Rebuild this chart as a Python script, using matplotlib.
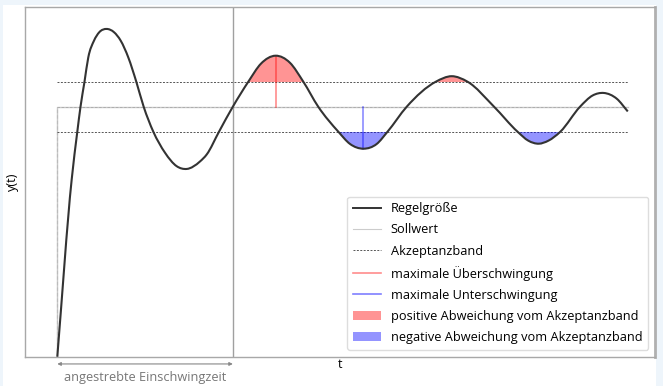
import numpy as np
import matplotlib
matplotlib.use("Agg")
import matplotlib.pyplot as plt
from matplotlib.lines import Line2D
from matplotlib.patches import Patch, Rectangle, PathPatch
from matplotlib.path import Path

# Regelgroesse (t in arbitrary units, y relative to setpoint)
t_values = [0.0, 0.328, 0.456, 0.529, 0.620, 0.706, 0.836, 0.957, 1.126, 1.292,
            1.445, 1.618, 1.800, 1.968, 2.188, 2.454, 2.721, 2.949, 3.252, 3.405,
            3.685, 4.0, 4.353, 4.640, 4.973, 5.300, 5.606, 5.946, 6.404, 6.670,
            6.974, 7.279, 7.525, 7.963, 8.626, 8.988, 9.348, 9.952, 10.488, 10.734,
            10.971, 11.190, 11.463, 11.912, 12.200, 12.450, 12.748, 13.0]
y_values = [0.0, 0.709, 0.900, 1.0, 1.10, 1.197, 1.264, 1.298, 1.311, 1.298,
            1.264, 1.197, 1.10, 1.0, 0.90, 0.816, 0.762, 0.751, 0.781, 0.809,
            0.90, 1.0, 1.10, 1.172, 1.204, 1.176, 1.10, 1.0, 0.90, 0.851,
            0.832, 0.851, 0.90, 1.0, 1.10, 1.122, 1.10, 1.0, 0.90, 0.864,
            0.852, 0.864, 0.90, 1.0, 1.045, 1.055, 1.032, 0.981]

sollwert = 1.0
band = 0.1
t_einschwing = 4.0

labels = ["Regelgröße", "Sollwert", "Akzeptanzband", "maximale Überschwingung",
          "maximale Unterschwingung", "positive Abweichung vom Akzeptanzband",
          "negative Abweichung vom Akzeptanzband"]

t = np.array(t_values)
y = np.array(y_values)


def smooth_path(t, y):
    # cubic bezier through the read points (hermite tangents)
    m = np.gradient(y, t)
    m[0] = (y[1] - y[0]) / (t[1] - t[0])
    verts = [(t[0], y[0])]
    codes = [Path.MOVETO]
    for i in range(len(t) - 1):
        h = t[i + 1] - t[i]
        verts += [(t[i] + h / 3, y[i] + m[i] * h / 3),
                  (t[i + 1] - h / 3, y[i + 1] - m[i + 1] * h / 3),
                  (t[i + 1], y[i + 1])]
        codes += [Path.CURVE4] * 3
    return verts, codes


plt.rcParams['font.family'] = ['Open Sans', 'DejaVu Sans']

fig = plt.figure(figsize=(6.63, 3.86), dpi=100, facecolor="#eef5fb")
# white card behind the chart
fig.patches.append(Rectangle((3 / 663, 0), 653 / 663, 381 / 386, transform=fig.transFigure,
                             facecolor="white", edgecolor="none", zorder=-5))
ax = fig.add_axes([25 / 663, 29.3 / 386, 630 / 663, 350 / 386])
ax.set_facecolor("white")
ax.set_zorder(1)

upper = sollwert + band
lower = sollwert - band

# Sollwert as step
ax.plot([0, 0, t[-1]], [0, sollwert, sollwert], color="#c8c8c8", lw=1.0, zorder=1)
ax.plot([0, 0], [0, sollwert], color="#bbbbbb", lw=0.8, ls=(0, (3, 2)), zorder=1)
ax.plot([0, t[-1]], [sollwert, sollwert], color="#aaaaaa", lw=0.6, ls=(0, (3, 2)), zorder=1)
# Akzeptanzband
ax.plot([0, t[-1]], [upper, upper], color="#555555", lw=0.7, ls=(0, (2, 1.5)), zorder=1)
ax.plot([0, t[-1]], [lower, lower], color="#555555", lw=0.7, ls=(0, (2, 1.5)), zorder=1)

# angestrebte Einschwingzeit
ax.axvline(t_einschwing, color="#a0a0a0", lw=1.0, zorder=1)

verts, codes = smooth_path(t, y)
t_end = t[-1]

# positive Abweichung: area under the curve, clipped to the region above the band
under = Path(verts + [(t_end, 0), (0, 0), (0, 0)],
             codes + [Path.LINETO, Path.LINETO, Path.CLOSEPOLY])
pos = PathPatch(under, facecolor="red", alpha=0.42, lw=0, zorder=2)
ax.add_patch(pos)
pos.set_clip_path(Rectangle((t_einschwing, upper), t_end - t_einschwing, 1.0,
                            transform=ax.transData))
# negative Abweichung: area above the curve, clipped to the region below the band
above = Path(verts + [(t_end, 2), (0, 2), (0, 2)],
             codes + [Path.LINETO, Path.LINETO, Path.CLOSEPOLY])
neg = PathPatch(above, facecolor="blue", alpha=0.42, lw=0, zorder=2)
ax.add_patch(neg)
neg.set_clip_path(Rectangle((t_einschwing, 0), t_end - t_einschwing, lower,
                            transform=ax.transData))

# maximale Ueber-/Unterschwingung nach der Einschwingzeit
after = t >= t_einschwing
i_max = np.argmax(np.where(after, y, -np.inf))
i_min = np.argmin(np.where(after, y, np.inf))
ax.plot([t[i_max], t[i_max]], [sollwert, y[i_max]], color="red", alpha=0.45, lw=1.2, zorder=3)
ax.plot([t[i_min], t[i_min]], [sollwert, y[i_min]], color="blue", alpha=0.45, lw=1.2, zorder=3)

ax.add_patch(PathPatch(Path(verts, codes), facecolor="none", edgecolor="#333333",
                       lw=1.5, zorder=4))

ax.set_xlim(-0.736, 13.62)
ax.set_ylim(0, 1.4)
ax.set_xticks([])
ax.set_yticks([])
for side in ["left", "bottom", "top"]:
    ax.spines[side].set_color("#a8a8a8")
    ax.spines[side].set_linewidth(1.0)
ax.spines["right"].set_color("#b0b0b0")
ax.spines["right"].set_linewidth(2.0)

ax.set_xlabel("t", fontsize=9.2, labelpad=1)
ax.set_ylabel("y(t)", fontsize=9.2, labelpad=4)

ax.annotate("", xy=(0, -0.029), xytext=(t_einschwing, -0.029), xycoords="data",
            arrowprops=dict(arrowstyle="<|-|>", color="#888888", lw=0.8,
                            mutation_scale=5, shrinkA=0, shrinkB=0),
            annotation_clip=False)
ax.text(t_einschwing / 2, -0.085, "angestrebte Einschwingzeit", ha="center", va="center",
        fontsize=9.2, color="#777777", clip_on=False)

handles = [
    Line2D([], [], color="#333333", lw=1.4),
    Line2D([], [], color="#cccccc", lw=0.8),
    Line2D([], [], color="#555555", lw=0.7, ls=(0, (2, 1.5))),
    Line2D([], [], color="red", alpha=0.45, lw=1.2),
    Line2D([], [], color="blue", alpha=0.5, lw=1.2),
    Patch(facecolor="red", alpha=0.42, lw=0),
    Patch(facecolor="blue", alpha=0.42, lw=0),
]
leg = ax.legend(handles, labels, loc="lower right", fontsize=9.2, labelspacing=0.64,
                handlelength=2.2, handletextpad=0.75, borderpad=0.45, framealpha=1,
                edgecolor="#dddddd", borderaxespad=0, bbox_to_anchor=(0.989, 0.019))

fig.savefig("out.png", dpi=100, facecolor=fig.get_facecolor())
